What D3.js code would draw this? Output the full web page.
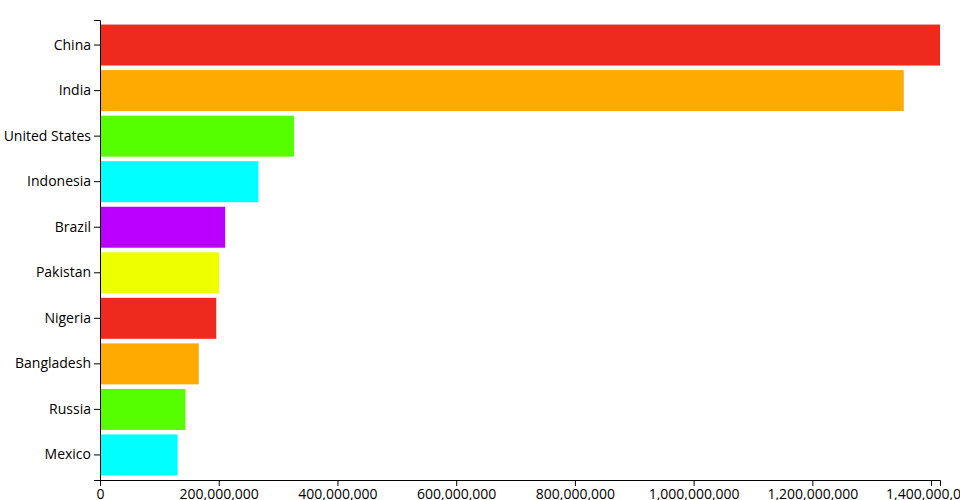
<!DOCTYPE html>
<html>
<head>
<meta charset="utf-8">
<script src="https://cdn.jsdelivr.net/npm/d3@7"></script>
<style>
  body { margin: 0; background: #fff; }
  svg { display: block; }
  .axis text { font-family: "Open Sans", sans-serif; font-size: 14px; fill: #000; }
</style>
</head>
<body>
<svg id="chart" width="960" height="500"></svg>
<script>
const countries = ["China", "India", "United States", "Indonesia", "Brazil", "Pakistan", "Nigeria", "Bangladesh", "Russia", "Mexico"];
const populations = [1415045928, 1354051854, 326766748, 266794980, 210867954, 200813818, 195875237, 166368149, 143964709, 130759074];
const palette = ["#ee2a1e", "#ffaa00", "#55ff00", "#00ffff", "#bb00ff", "#eeff00"];

const margin = {top: 20, right: 20, bottom: 20, left: 100};
const width = 960 - margin.left - margin.right;
const height = 500 - margin.top - margin.bottom;

const svg = d3.select("#chart");
const g = svg.append("g").attr("transform", `translate(${margin.left},${margin.top})`);

const data = countries.map((c, i) => ({country: c, value: populations[i]}));

const x = d3.scaleLinear().domain([0, d3.max(populations)]).range([0, width]);
const y = d3.scaleBand().domain(countries).range([0, height]).paddingInner(0.1).paddingOuter(0.1);
const color = d3.scaleOrdinal().domain(countries).range(palette);

g.selectAll("rect.bar")
  .data(data)
  .enter().append("rect")
  .attr("class", "bar")
  .attr("x", 0)
  .attr("y", d => y(d.country))
  .attr("width", d => x(d.value))
  .attr("height", y.bandwidth())
  .attr("fill", d => color(d.country));

g.append("g").attr("class", "axis")
  .call(d3.axisLeft(y))
  .call(s => s.selectAll("text").style("font-family", "'Open Sans', sans-serif").style("font-size", "14px"));

g.append("g").attr("class", "axis")
  .attr("transform", `translate(0,${height})`)
  .call(d3.axisBottom(x).ticks(7).tickFormat(d3.format(",")))
  .call(s => s.selectAll("text").style("font-family", "'Open Sans', sans-serif").style("font-size", "14px"));
</script>
</body>
</html>
